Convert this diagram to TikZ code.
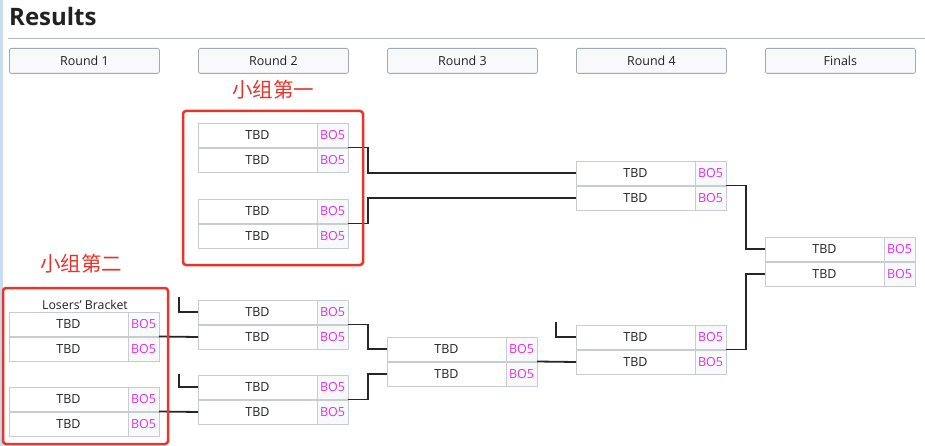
\documentclass[tikz,border=0pt]{standalone}
\usepackage{fontspec}
\setmainfont{Open Sans}
\newfontfamily\cjk{Noto Sans CJK SC}
\definecolor{cellborder}{HTML}{C8CCD1}
\definecolor{cellbg}{HTML}{F8F9FA}
\definecolor{hdrborder}{HTML}{A2A9B1}
\definecolor{bofive}{HTML}{E62EE6}
\definecolor{txt}{HTML}{202122}
\definecolor{redmark}{HTML}{E8352B}
\definecolor{edgeblue}{HTML}{C9DDF1}
\tikzset{
  tbdcell/.style={draw=cellborder, fill=white, line width=0.8pt, minimum width=119pt, minimum height=24pt, inner sep=0pt, outer sep=0pt, anchor=north west, font=\fontsize{12.5}{14}\selectfont, text=txt},
  bocell/.style={draw=cellborder, fill=cellbg, line width=0.8pt, minimum width=31pt, minimum height=24pt, inner sep=0pt, outer sep=0pt, anchor=north west, font=\fontsize{12.5}{14}\selectfont, text=bofive},
  hdr/.style={draw=hdrborder, fill=cellbg, rounded corners=2pt, line width=0.8pt, minimum width=150pt, minimum height=25pt, inner sep=0pt, anchor=north west, font=\fontsize{12.5}{14}\selectfont, text=txt},
  conn/.style={draw=black!85, line width=1.8pt},
  redbox/.style={draw=redmark, line width=2.5pt, rounded corners=3pt},
  redlabel/.style={text=redmark, font=\cjk\fontsize{20.5}{22}\selectfont, inner sep=0pt},
}
\newcommand\mymatch[3]{%
  \node[tbdcell] (#1-1) at (#2,#3) {TBD};
  \node[bocell] (#1-1b) at (#2+119,#3) {BO5};
  \node[tbdcell] (#1-2) at (#2,#3+25) {TBD};
  \node[bocell] (#1-2b) at (#2+119,#3+25) {BO5};
  \coordinate (#1-out) at (#2+150,#3+24.5);
}
\begin{document}
\begin{tikzpicture}[x=1pt,y=-1pt]
\useasboundingbox (0,0) rectangle (925,446);
\fill[white] (0,0) rectangle (925,446);
\fill[edgeblue] (0,0) rectangle (2.5,446);
\node[anchor=base west, inner sep=0pt, font=\bfseries\fontsize{24}{26}\selectfont, text=txt] (title) at (9,26) {Results};
\draw[hdrborder!80, line width=0.8pt] (8,38) -- (925,38);
\node[hdr] (h1) at (9,48) {Round 1};
\node[hdr] (h2) at (198,48) {Round 2};
\node[hdr] (h3) at (387,48) {Round 3};
\node[hdr] (h4) at (576,48) {Round 4};
\node[hdr] (h5) at (765,48) {Finals};
% matches
\mymatch{r1a}{9}{312}
\mymatch{r1b}{9}{387}
\mymatch{r2a}{198}{123}
\mymatch{r2b}{198}{199}
\mymatch{r2c}{198}{300}
\mymatch{r2d}{198}{375}
\mymatch{r3a}{387}{337}
\mymatch{r4a}{576}{161}
\mymatch{r4b}{576}{325}
\mymatch{fin}{765}{237}
\node[font=\fontsize{12.3}{14}\selectfont, text=txt, inner sep=0pt] (lb) at (85,305) {Losers{\char"27} Bracket};
% connectors
\draw[conn] (r2a-out) -- ++(20,0) |- (r4a-1.west);
\draw[conn] (r2b-out) -- ++(20,0) |- (r4a-2.west);
\draw[conn] (r4a-out) -- ++(20,0) |- (fin-1.west);
\draw[conn] (r4b-out) -- ++(20,0) |- (fin-2.west);
\draw[conn] (r2c-out) -- ++(20,0) |- (r3a-1.west);
\draw[conn] (r2d-out) -- ++(20,0) |- (r3a-2.west);
\draw[conn] (r1a-out) -- (r2c-2.west);
\draw[conn] (r1b-out) -- (r2d-2.west);
\draw[conn] (r3a-out) -- (r4b-2.west);
\coordinate (s1) at (179,297);
\coordinate (s2) at (179,374);
\coordinate (s3) at (556,322);
\draw[conn] (s1) |- (r2c-1.west);
\draw[conn] (s2) |- (r2d-1.west);
\draw[conn] (s3) |- (r4b-1.west);
% red annotations
\draw[redbox] (183,111) rectangle (363,265);
\draw[redbox] (3,288) rectangle (168,444);
\node[redlabel] (l1) at (273,90) {小组第一};
\node[redlabel] (l2) at (81,264) {小组第二};
\end{tikzpicture}
\end{document}
